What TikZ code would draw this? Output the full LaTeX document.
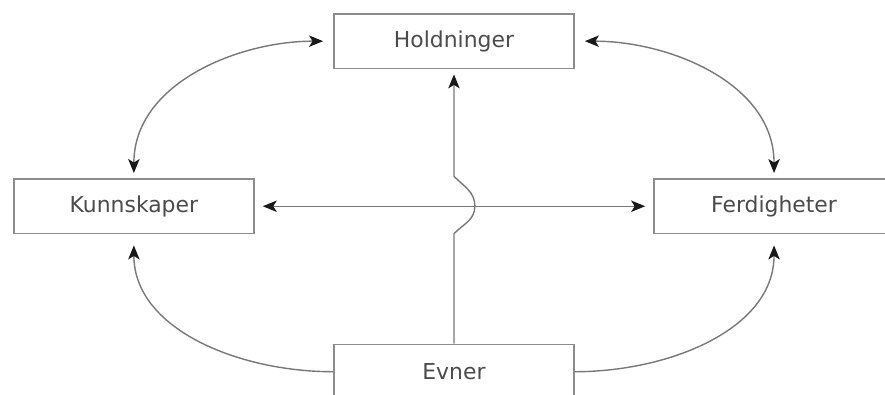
\documentclass[tikz,border=0pt]{standalone}
\usepackage{fontspec}
\setmainfont{DejaVu Sans}
\usepackage{xcolor}
\usepackage{tikz}
\usetikzlibrary{arrows.meta, positioning, calc}
\definecolor{boxline}{RGB}{140, 140, 140}
\definecolor{linegray}{RGB}{120, 120, 120}
\definecolor{tipdark}{RGB}{25, 25, 25}
\definecolor{textgray}{RGB}{75, 75, 75}

\begin{document}
\begin{tikzpicture}[
  node distance=2.18cm and 1.57cm,
  every node/.style={font=\fontsize{12.5}{15}\selectfont},
  box/.style={rectangle, draw=boxline, line width=0.9pt, fill=white,
              minimum width=4.82cm, minimum height=1.1cm, inner sep=0pt, text=textgray},
  >={Stealth[length=8pt, width=6.5pt, inset=2pt, color=tipdark]},
  arr/.style={line width=0.8pt, draw=linegray}
]

\node[box] (hold) {Holdninger};
\node[box, below left=of hold]  (kunn)  {Kunnskaper};
\node[box, below right=of hold] (ferd)  {Ferdigheter};
\node[box, below=5.5cm of hold] (evner) {Evner};

% crossing point of the two straight connectors
\coordinate (jmp) at (hold.south |- kunn.east);

\draw[arr, <->, shorten <=0.2cm, shorten >=0.1cm] (hold.west) to[out=180, in=90] (kunn.north);
\draw[arr, <->, shorten <=0.2cm, shorten >=0.1cm] (hold.east) to[out=0, in=90] (ferd.north);
\draw[arr, <->, shorten <=0.16cm, shorten >=0.16cm] (kunn.east) -- (ferd.west);
\draw[arr, ->, shorten >=0.22cm] (evner.west) to[out=180, in=-90] (kunn.south);
\draw[arr, ->, shorten >=0.22cm] (evner.east) to[out=0, in=-90] (ferd.south);
\draw[arr, ->, shorten >=0.1cm] (evner.north) -- ([yshift=-0.55cm]jmp)
  to[out=45, in=-90] ([xshift=0.42cm]jmp)
  to[out=90, in=-45] ([yshift=0.6cm]jmp) -- (hold.south);

\pgfresetboundingbox
\useasboundingbox ($(kunn.west |- hold.north)+(-0.26,0.26)$) rectangle ($(ferd.east |- evner.north)+(-0.2,-1.02)$);

\end{tikzpicture}
\end{document}
